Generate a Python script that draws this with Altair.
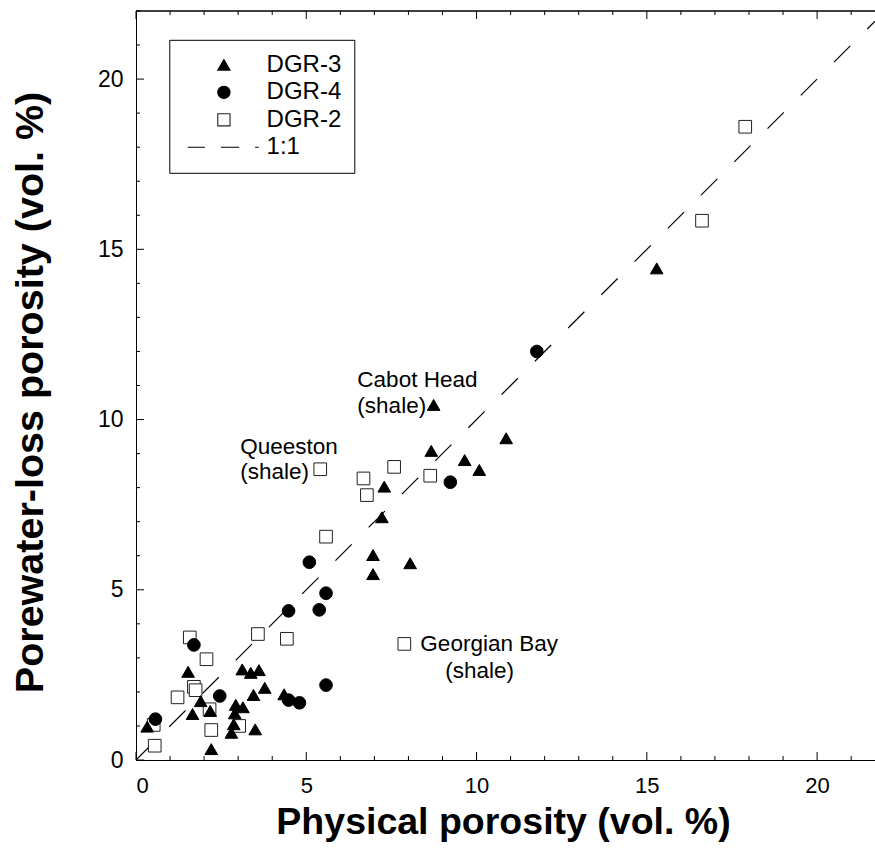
import altair as alt
import pandas as pd

# ---------------- data ----------------
series_names = ["DGR-3", "DGR-4", "DGR-2", "1:1"]

dgr2_x = [0.55, 0.52, 1.22, 1.70, 1.75, 1.58, 2.07, 2.16, 2.21, 3.03, 3.58, 4.43, 5.58,
          6.68, 6.78, 7.58, 5.41, 8.64, 7.88, 17.89, 16.62]
dgr2_y = [0.42, 1.03, 1.84, 2.15, 2.05, 3.60, 2.96, 1.49, 0.88, 1.00, 3.70, 3.56, 6.56,
          8.27, 7.78, 8.61, 8.54, 8.35, 3.41, 18.60, 15.84]

dgr3_x = [0.33, 1.53, 1.66, 1.90, 2.18, 2.21, 3.12, 3.37, 3.61, 3.45, 3.78, 2.93, 3.14,
          2.90, 2.87, 2.80, 3.50, 4.35, 6.96, 6.96, 8.05, 7.22, 7.29, 8.67, 8.74, 9.65,
          10.08, 10.87, 15.29]
dgr3_y = [0.98, 2.59, 1.35, 1.73, 1.44, 0.32, 2.66, 2.56, 2.64, 1.91, 2.12, 1.62, 1.55,
          1.37, 1.05, 0.80, 0.90, 1.93, 6.02, 5.46, 5.78, 7.13, 8.03, 9.08, 10.43, 8.81,
          8.52, 9.45, 14.44]

dgr4_x = [0.57, 1.70, 2.46, 4.48, 4.80, 5.58, 5.09, 4.48, 5.38, 5.58, 9.23, 11.77]
dgr4_y = [1.20, 3.38, 1.88, 1.76, 1.68, 2.20, 5.81, 4.38, 4.41, 4.90, 8.16, 12.00]

line_x = [0.0, 21.7]
line_y = [0.0, 21.7]

ann_text = ["Cabot Head", "(shale)", "Queeston", "(shale)", "Georgian Bay", "(shale)"]
ann_x = [6.50, 6.50, 3.06, 3.06, 8.35, 9.08]
ann_y = [11.16, 10.40, 9.20, 8.47, 3.41, 2.60]

x_major = [0, 5, 10, 15, 20]
x_minor = [v for v in range(0, 22) if v % 5 != 0]
y_major = [0, 5, 10, 15, 20]
y_minor = [v for v in range(0, 23) if v % 5 != 0]

# ---------------- layout constants ----------------
W, H = 739, 749
XDOM = [0, 21.7]
YDOM = [0, 22]
FONT = "Liberation Sans"

points = pd.DataFrame(
    {"x": dgr2_x, "y": dgr2_y, "series": "DGR-2"}
)
points = pd.concat([
    points,
    pd.DataFrame({"x": dgr3_x, "y": dgr3_y, "series": "DGR-3"}),
    pd.DataFrame({"x": dgr4_x, "y": dgr4_y, "series": "DGR-4"}),
], ignore_index=True)
points["order"] = range(len(points))

line_df = pd.DataFrame({"x": line_x, "y": line_y})

xscale = alt.Scale(domain=XDOM, nice=False, zero=False)
yscale = alt.Scale(domain=YDOM, nice=False, zero=False)

dash_path = "M-5.9,0H-3.1M-0.5,0H2.5M5.1,0H5.7"

legend = alt.Legend(
    title=None, orient="none", legendX=33.3, legendY=28.8,
    strokeColor="black", fillColor="white", padding=13, cornerRadius=0,
    labelFont=FONT, labelFontSize=24, labelColor="black",
    symbolSize=150, symbolStrokeColor="black", symbolStrokeWidth=1.1,
    symbolOffset=29.6, labelOffset=30.7, rowPadding=3.5,
)

pts = alt.Chart(points).mark_point(
    filled=True, size=160, strokeWidth=1, opacity=1
).encode(
    x=alt.X("x:Q", scale=xscale,
            axis=alt.Axis(values=x_major, title="Physical porosity (vol. %)",
                          titleX=367, titleY=73, titleBaseline="alphabetic",
                          titleAlign="center", labelPadding=15, labelFontSize=22,
                          titleFontSize=37.5)),
    y=alt.Y("y:Q", scale=yscale,
            axis=alt.Axis(values=y_major, title="Porewater-loss porosity (vol. %)",
                          titleX=-94, titleY=381, titleBaseline="alphabetic",
                          titleAlign="center", labelPadding=13, titleFontSize=39.5)),
    shape=alt.Shape("series:N",
                    scale=alt.Scale(domain=series_names,
                                    range=["triangle-up", "circle", "square", dash_path]),
                    legend=legend),
    fill=alt.Fill("series:N",
                  scale=alt.Scale(domain=series_names,
                                  range=["black", "black", "white", "transparent"]),
                  legend=legend),
    stroke=alt.Stroke("series:N",
                      scale=alt.Scale(domain=series_names,
                                      range=["black", "black", "#222222", "black"]),
                      legend=legend),
    order=alt.Order("order:Q"),
)

one_to_one = alt.Chart(line_df).mark_line(
    color="black", strokeWidth=1.2, strokeDash=[23, 24]
).encode(
    x=alt.X("x:Q", scale=xscale),
    y=alt.Y("y:Q", scale=yscale),
)

def tick_layer(vals, axis_char, pos, length):
    df = pd.DataFrame({"v": vals})
    if axis_char == "x":
        if pos == "bottom":
            enc = dict(x=alt.X("v:Q", scale=xscale), y=alt.value(H), y2=alt.value(H - length))
        else:
            enc = dict(x=alt.X("v:Q", scale=xscale), y=alt.value(0), y2=alt.value(length))
    else:
        enc = dict(y=alt.Y("v:Q", scale=yscale), x=alt.value(0), x2=alt.value(length))
    return alt.Chart(df).mark_rule(color="black", strokeWidth=1).encode(**enc)

ticks = [
    tick_layer(x_minor, "x", "bottom", 4),
    tick_layer(x_major, "x", "bottom", 8),
    tick_layer(x_minor, "x", "top", 4),
    tick_layer(x_major, "x", "top", 8),
    tick_layer(y_minor, "y", "left", 4),
    tick_layer(y_major, "y", "left", 8),
]

top_border = alt.Chart(line_df).mark_rule(color="black", strokeWidth=1).encode(
    x=alt.value(0), x2=alt.value(W), y=alt.value(0)
)

ann = alt.Chart(pd.DataFrame({"t": ann_text, "x": ann_x, "y": ann_y})).mark_text(
    align="left", baseline="middle", font=FONT, fontSize=22.5, color="black"
).encode(x=alt.X("x:Q", scale=xscale), y=alt.Y("y:Q", scale=yscale), text="t:N")

chart = alt.layer(
    one_to_one, *ticks, top_border, ann, pts
).properties(
    width=W, height=H,
    autosize=alt.AutoSizeParams(type="none"),
    padding={"left": 136, "top": 11, "right": 0, "bottom": 94},
    background="white",
).configure_view(
    stroke="transparent"
).configure_axis(
    grid=False, ticks=False, tickSize=0,
    domainColor="black", domainWidth=1,
    labelFont=FONT, labelFontSize=23, labelColor="black",
    titleFont=FONT, titleFontSize=37, titleFontWeight="bold", titleColor="black",
)

chart.save("out.html", embed_options={"renderer": "svg", "actions": False})
